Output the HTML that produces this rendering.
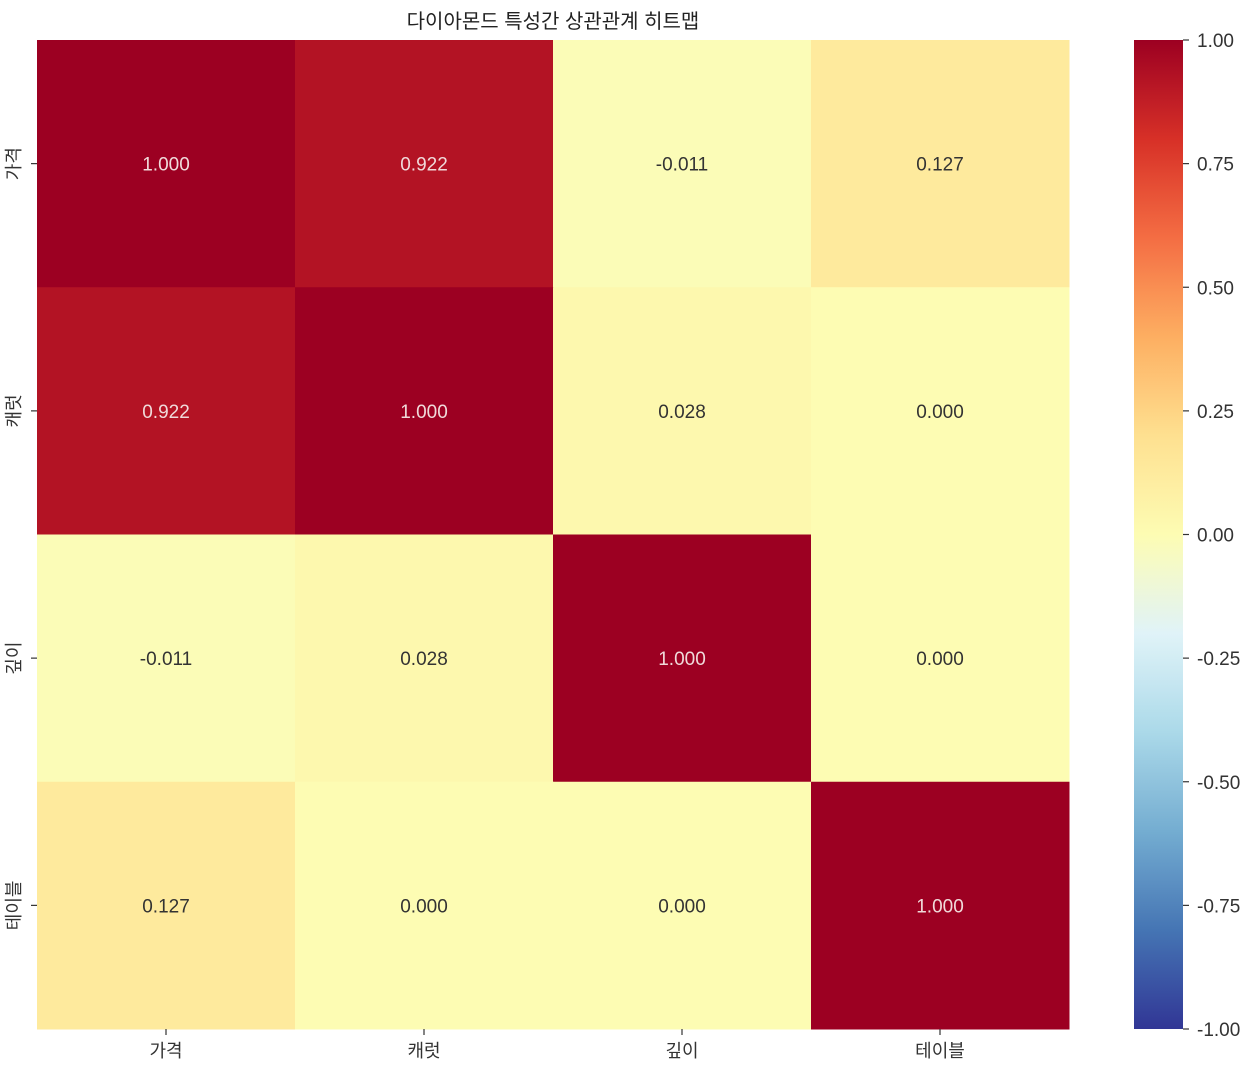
<!DOCTYPE html>
<html><head><meta charset="utf-8">
<style>
body{margin:0;background:#fff;width:1249px;height:1080px;overflow:hidden;font-family:"Liberation Sans","Noto Sans CJK KR",sans-serif;}
svg text{font-family:"Liberation Sans","Noto Sans CJK KR",sans-serif;}
</style></head>
<body>
<svg id="chart" width="1249" height="1080" xmlns="http://www.w3.org/2000/svg">
<defs>
<linearGradient id="cbgrad" x1="0" y1="1" x2="0" y2="0"></linearGradient>
</defs>
<text x="553" y="28" font-size="20" text-anchor="middle" fill="#222">다이아몬드 특성간 상관관계 히트맵</text>
<g id="cells"></g>
<g id="cbar"></g>
</svg>
<script>
const rowLabels = ["가격","캐럿","깊이","테이블"];
const colLabels = ["가격","캐럿","깊이","테이블"];
const values = [
  [1.000, 0.922, -0.011, 0.127],
  [0.922, 1.000, 0.028, 0.000],
  [-0.011, 0.028, 1.000, 0.000],
  [0.127, 0.000, 0.000, 1.000]
];
const cbTicks = [1.00, 0.75, 0.50, 0.25, 0.00, -0.25, -0.50, -0.75, -1.00];

const stops = ["#313695","#4575b4","#74add1","#abd9e9","#e0f3f8","#fdfcb3","#fee090","#fdae61","#f46d43","#d73027","#9c0022"];
function hex(h){return [1,3,5].map(i=>parseInt(h.substr(i,2),16));}
function color(v){
  let t=(v+1)/2*(stops.length-1); t=Math.max(0,Math.min(stops.length-1,t));
  let i=Math.min(Math.floor(t),stops.length-2), f=t-i;
  let a=hex(stops[i]), b=hex(stops[i+1]);
  return "rgb("+a.map((x,k)=>Math.round(x+(b[k]-x)*f)).join(",")+")";
}
const NS="http://www.w3.org/2000/svg";
const X0=37, X1=1069, Y0=40, Y1=1029;
const cw=(X1-X0)/colLabels.length, ch=(Y1-Y0)/rowLabels.length;
const xs=j=>X0+j*cw, ys=i=>Y0+i*ch;
function mk(tag,attrs,parent){const e=document.createElementNS(NS,tag);for(const k in attrs)e.setAttribute(k,attrs[k]);parent.appendChild(e);return e;}
const g=document.getElementById("cells");
values.forEach((row,i)=>row.forEach((v,j)=>{
  const r=mk("rect",{x:xs(j),y:ys(i),width:cw+0.5,height:ch+0.5,fill:color(v)},g);
  
  
  const t=mk("text",{x:xs(j)+cw/2,y:ys(i)+ch/2+7,"font-size":19,"text-anchor":"middle",fill:Math.abs(v)>0.6?"#f0dada":"#333"},g);
  
  
  t.textContent=v.toFixed(3);
}));
rowLabels.forEach((l,i)=>{
  const cy=ys(i)+ch/2;
  mk("line",{x1:X0-6,x2:X0,y1:cy,y2:cy,stroke:"#333","stroke-width":1.2},g);
  const t=mk("text",{x:0,y:0,"font-size":18,"text-anchor":"middle",fill:"#333",transform:`translate(20,${cy}) rotate(-90)`},g);
  
  
  t.textContent=l;
});
colLabels.forEach((l,j)=>{
  const cx=xs(j)+cw/2;
  mk("line",{x1:cx,x2:cx,y1:Y1,y2:Y1+6,stroke:"#333","stroke-width":1.2},g);
  const t=mk("text",{x:cx,y:Y1+28,"font-size":18,"text-anchor":"middle",fill:"#333"},g);
  
  
  t.textContent=l;
});
// colorbar
const grad=document.getElementById("cbgrad");
for(let k=0;k<=40;k++){const v=-1+2*k/40;mk("stop",{offset:(k/40),"stop-color":color(v)},grad);}
const cb=document.getElementById("cbar");
const CBX=1134, CBW=49;
const cby=v=>Y0+(1-v)/2*(Y1-Y0);
const cr=mk("rect",{x:CBX,y:Y0,width:CBW,height:Y1-Y0,fill:"url(#cbgrad)"},cb);


cbTicks.forEach(v=>{
  const y=cby(v);
  mk("line",{x1:CBX+CBW,x2:CBX+CBW+6,y1:y,y2:y,stroke:"#333","stroke-width":1.2},cb);
  const t=mk("text",{x:CBX+CBW+14,y:y+7,"font-size":19,fill:"#333"},cb);
  
  
  t.textContent=v.toFixed(2);
});
</script>
</body></html>
